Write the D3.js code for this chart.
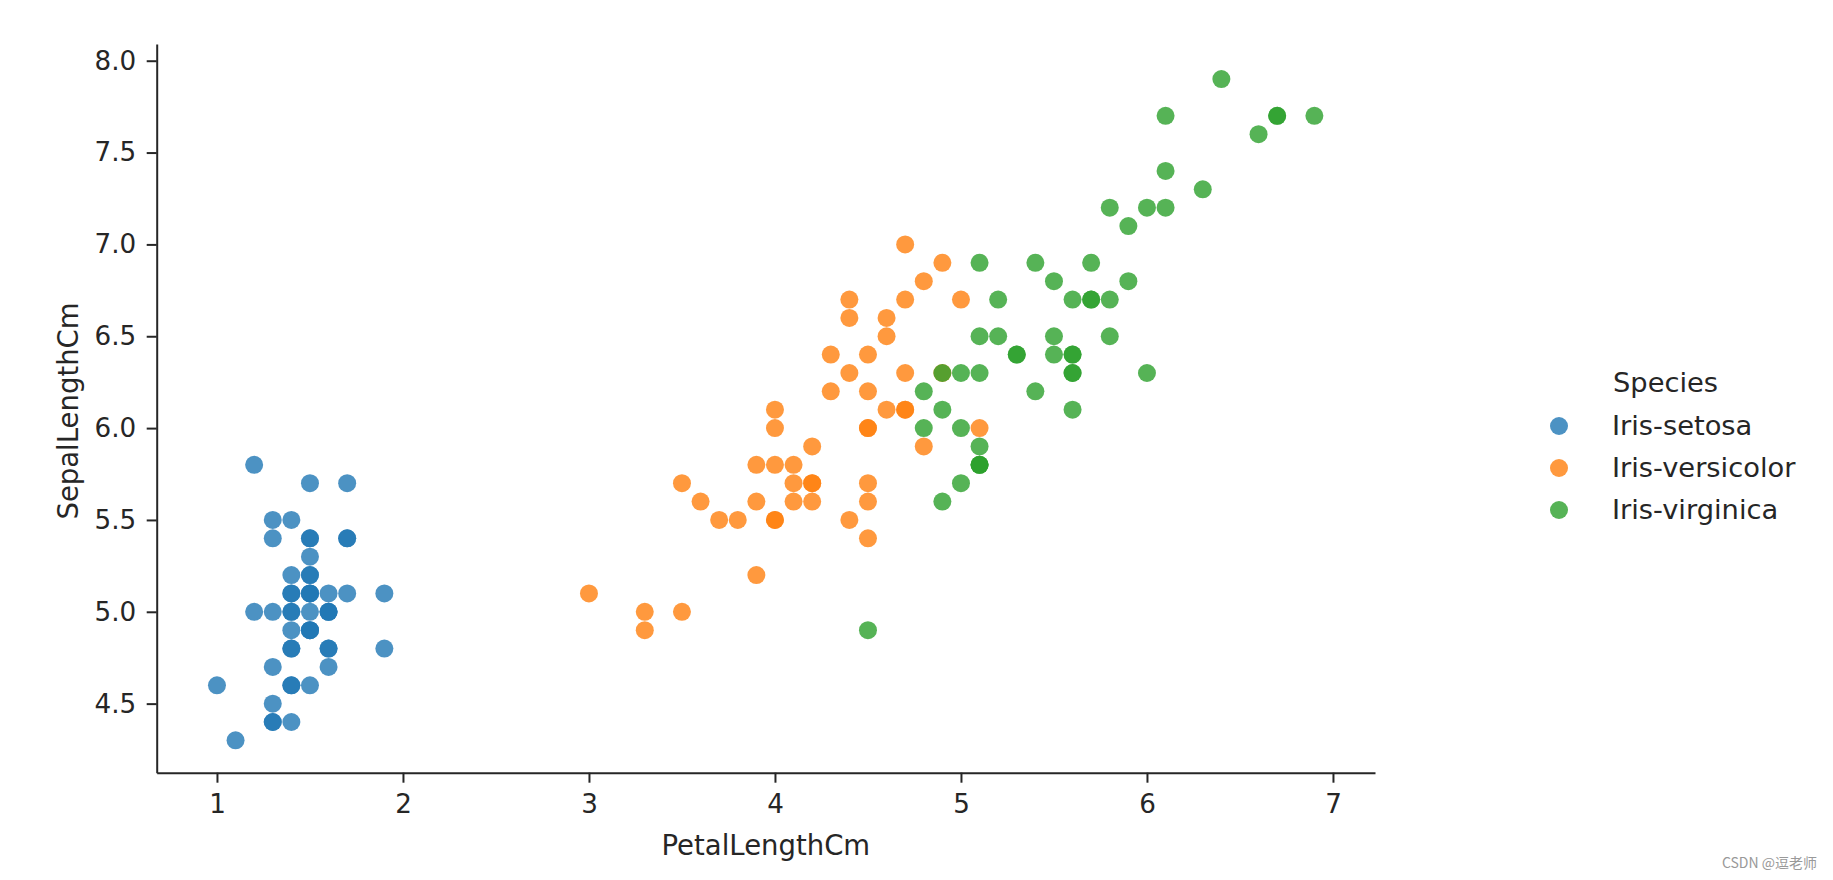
<!DOCTYPE html>
<html><head><meta charset="utf-8">
<script src="https://cdn.jsdelivr.net/npm/d3@7/dist/d3.min.js"></script>
<style>
html,body{margin:0;padding:0;background:#fff;}
svg{display:block;}
text{font-family:"DejaVu Sans",sans-serif;}
</style></head>
<body>
<svg id="chart" width="1833" height="880"></svg>
<script>
const species = ["Iris-setosa","Iris-versicolor","Iris-virginica"];
const colors = ["#1f77b4","#ff7f0e","#2ca02c"];
const xTicks = [1,2,3,4,5,6,7];
const yTicks = [4.5,5.0,5.5,6.0,6.5,7.0,7.5,8.0];

const setosaPetal = [1.4,1.4,1.3,1.5,1.4,1.7,1.4,1.5,1.4,1.5,1.5,1.6,1.4,1.1,1.2,1.5,1.3,1.4,1.7,1.5,1.7,1.5,1.0,1.7,1.9,1.6,1.6,1.5,1.4,1.6,1.6,1.5,1.5,1.4,1.5,1.2,1.3,1.5,1.3,1.5,1.3,1.3,1.3,1.6,1.9,1.4,1.6,1.4,1.5,1.4];
const setosaSepal = [5.1,4.9,4.7,4.6,5.0,5.4,4.6,5.0,4.4,4.9,5.4,4.8,4.8,4.3,5.8,5.7,5.4,5.1,5.7,5.1,5.4,5.1,4.6,5.1,4.8,5.0,5.0,5.2,5.2,4.7,4.8,5.4,5.2,5.5,4.9,5.0,5.5,4.9,4.4,5.1,5.0,4.5,4.4,5.0,5.1,4.8,5.1,4.6,5.3,5.0];
const versicolorPetal = [4.7,4.5,4.9,4.0,4.6,4.5,4.7,3.3,4.6,3.9,3.5,4.2,4.0,4.7,3.6,4.4,4.5,4.1,4.5,3.9,4.8,4.0,4.9,4.7,4.3,4.4,4.8,5.0,4.5,3.5,3.8,3.7,3.9,5.1,4.5,4.5,4.7,4.4,4.1,4.0,4.4,4.6,4.0,3.3,4.2,4.2,4.2,4.3,3.0,4.1];
const versicolorSepal = [7.0,6.4,6.9,5.5,6.5,5.7,6.3,4.9,6.6,5.2,5.0,5.9,6.0,6.1,5.6,6.7,5.6,5.8,6.2,5.6,5.9,6.1,6.3,6.1,6.4,6.6,6.8,6.7,6.0,5.7,5.5,5.5,5.8,6.0,5.4,6.0,6.7,6.3,5.6,5.5,5.5,6.1,5.8,5.0,5.6,5.7,5.7,6.2,5.1,5.7];
const virginicaPetal = [6.0,5.1,5.9,5.6,5.8,6.6,4.5,6.3,5.8,6.1,5.1,5.3,5.5,5.0,5.1,5.3,5.5,6.7,6.9,5.0,5.7,4.9,6.7,4.9,5.7,6.0,4.8,4.9,5.6,5.8,6.1,6.4,5.6,5.1,5.6,6.1,5.6,5.5,4.8,5.4,5.6,5.1,5.1,5.9,5.7,5.2,5.0,5.2,5.4,5.1];
const virginicaSepal = [6.3,5.8,7.1,6.3,6.5,7.6,4.9,7.3,6.7,7.2,6.5,6.4,6.8,5.7,5.8,6.4,6.5,7.7,7.7,6.0,6.9,5.6,7.7,6.3,6.7,7.2,6.2,6.1,6.4,7.2,7.4,7.9,6.4,6.3,6.1,7.7,6.3,6.4,6.0,6.9,6.7,6.9,5.8,6.8,6.7,6.7,6.3,6.5,6.2,5.9];

const groups = [
  {name:species[0], color:colors[0], x:setosaPetal, y:setosaSepal},
  {name:species[1], color:colors[1], x:versicolorPetal, y:versicolorSepal},
  {name:species[2], color:colors[2], x:virginicaPetal, y:virginicaSepal}
];

(function(){
const svg = d3.select("#chart");
const pL = 156.7, pR = 1375, pT = 44, pB = 772.7;
const x = d3.scaleLinear().domain([0.676, 7.226]).range([pL, pR]);
const y = d3.scaleLinear().domain([4.124, 8.091]).range([pB, pT]);
const axisColor = "#262626";
const tickFs = 26.2, labelFs = 27.5, legFs = 27.3;

const gx = svg.append("g").attr("transform", `translate(0,${pB})`)
  .call(d3.axisBottom(x).tickValues(xTicks).tickFormat(d3.format("d")).tickSize(10).tickPadding(12).tickSizeOuter(0));
const gy = svg.append("g").attr("transform", `translate(${pL},0)`)
  .call(d3.axisLeft(y).tickValues(yTicks).tickFormat(d3.format(".1f")).tickSize(10).tickPadding(10.5).tickSizeOuter(0));
[gx, gy].forEach(g => {
  g.select(".domain").attr("stroke", axisColor).attr("stroke-width", 2);
  g.selectAll(".tick line").attr("stroke", axisColor).attr("stroke-width", 2);
  g.selectAll(".tick text").attr("fill", axisColor).style("font-size", tickFs + "px").style("font-family", "DejaVu Sans");
});

groups.forEach(g => {
  svg.append("g").selectAll("circle").data(g.x.map((v, i) => [v, g.y[i]])).join("circle")
    .attr("cx", d => x(d[0])).attr("cy", d => y(d[1])).attr("r", 9)
    .attr("fill", g.color).attr("fill-opacity", 0.8);
});

svg.append("text").attr("x", (pL + pR) / 2).attr("y", 855).attr("text-anchor", "middle")
  .attr("fill", axisColor).style("font-size", labelFs + "px").text("PetalLengthCm");
svg.append("text").attr("transform", `translate(78,411) rotate(-90)`).attr("text-anchor", "middle")
  .attr("fill", axisColor).style("font-size", labelFs + "px").text("SepalLengthCm");

const lg = svg.append("g");
lg.append("text").attr("x", 1613).attr("y", 392).attr("fill", axisColor).style("font-size", legFs + "px").text("Species");
groups.forEach((g, i) => {
  const cy = 426 + i * 42;
  lg.append("circle").attr("cx", 1559).attr("cy", cy).attr("r", 9).attr("fill", g.color).attr("fill-opacity", 0.8);
  lg.append("text").attr("x", 1612).attr("y", cy + 9).attr("fill", axisColor).style("font-size", legFs + "px").text(g.name);
});

svg.append("text").attr("x", 1817).attr("y", 868).attr("text-anchor", "end").attr("fill", "#999")
  .style("font-size", "14px").style("font-family", "'Noto Sans CJK SC', sans-serif").text("CSDN @逗老师");
})();
</script>
</body></html>
